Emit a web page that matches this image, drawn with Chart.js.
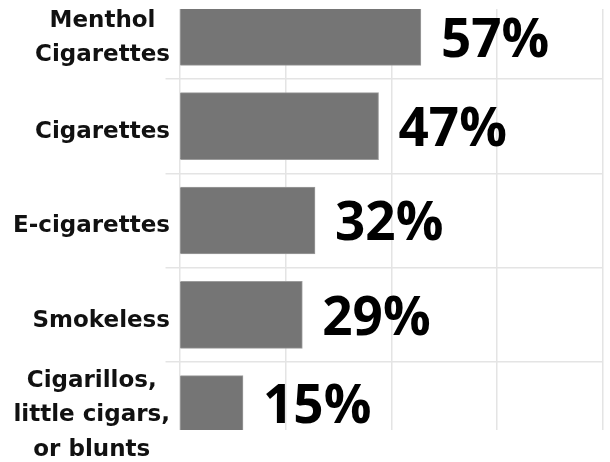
<!DOCTYPE html>
<html>
<head>
<meta charset="utf-8">
<script src="https://cdn.jsdelivr.net/npm/chart.js@4.4.1/dist/chart.umd.min.js"></script>
<style>
  html, body { margin: 0; padding: 0; background: #ffffff; }
  #wrap { position: relative; width: 610px; height: 462px; }
</style>
</head>
<body>
<div id="wrap"><canvas id="c" width="610" height="462"></canvas></div>
<script>
const categories = [
  ["Menthol", "Cigarettes"],
  ["Cigarettes"],
  ["E-cigarettes"],
  ["Smokeless"],
  ["Cigarillos,", "little cigars,", "or blunts"]
];
const values = [57, 47, 32, 29, 15];
const xTicks = [0, 25, 50, 75, 100];

const GRID = '#e4e4e4';
const CAT_FONT = 'bold 23px "DejaVu Sans"';

// Category labels: each block right-aligned to the axis, lines centred within the block
const catLabels = {
  id: 'catLabels',
  afterDraw(chart) {
    const { ctx } = chart;
    const y = chart.scales.y;
    const right = 170, lh = 34.5;
    ctx.save();
    ctx.font = CAT_FONT;
    ctx.fillStyle = '#111111';
    ctx.textAlign = 'center';
    ctx.textBaseline = 'middle';
    categories.forEach((lines, i) => {
      const w = Math.max(...lines.map(l => ctx.measureText(l).width));
      const cx = right - w / 2;
      const cy = y.getPixelForValue(i) + 6;
      lines.forEach((l, k) => {
        ctx.fillText(l, cx, cy + (k - (lines.length - 1) / 2) * lh);
      });
    });
    ctx.restore();
  }
};

const valueLabels = {
  id: 'valueLabels',
  afterDatasetsDraw(chart) {
    const { ctx, chartArea } = chart;
    const meta = chart.getDatasetMeta(0);
    ctx.save();
    ctx.fillStyle = '#000000';
    ctx.font = '700 53px "Open Sans"';
    ctx.textAlign = 'left';
    ctx.textBaseline = 'alphabetic';
    meta.data.forEach((bar, i) => {
      const top = Math.max(bar.y - bar.height / 2, chartArea.top);
      const bot = Math.min(bar.y + bar.height / 2, chartArea.bottom);
      ctx.fillText(values[i] + '%', bar.x + 20, (top + bot) / 2 + 20);
    });
    ctx.restore();
  }
};

new Chart(document.getElementById('c'), {
  type: 'bar',
  data: {
    labels: categories,
    datasets: [{
      data: values.map((v, i) => ({ x: v, y: i })),
      backgroundColor: '#757575',
      borderColor: '#9c9c9c',
      borderWidth: 1,
      barThickness: 67
    }]
  },
  options: {
    indexAxis: 'y',
    responsive: false,
    animation: false,
    devicePixelRatio: 1,
    layout: { padding: { top: 9, right: 7, bottom: 32, left: 0 } },
    plugins: { legend: { display: false }, tooltip: { enabled: false } },
    scales: {
      x: {
        type: 'linear',
        min: 0,
        max: 100,
        afterBuildTicks(axis) { axis.ticks = xTicks.map(v => ({ value: v })); },
        ticks: { display: false },
        grid: { color: GRID, lineWidth: 1.5, drawTicks: false },
        border: { display: false }
      },
      y: {
        type: 'linear',
        reverse: true,
        offset: false,
        min: -0.242,
        max: 4.221,
        afterBuildTicks(axis) {
          axis.ticks = categories.map((c, i) => ({ value: i }));
        },
        afterFit(axis) {
          axis.width = 179.5;
          axis.paddingTop = 0;
          axis.paddingBottom = 0;
        },
        ticks: {
          autoSkip: false,
          source: 'data',
          color: 'rgba(0,0,0,0)',
          font: { family: 'DejaVu Sans', size: 23, weight: 'bold' },
          callback(v) { return categories[v]; }
        },
        grid: {
          offset: true,
          tickLength: 14,
          lineWidth: 1.5,
          color: GRID
        },
        border: { display: false }
      }
    }
  },
  plugins: [valueLabels, catLabels]
});
</script>
</body>
</html>
